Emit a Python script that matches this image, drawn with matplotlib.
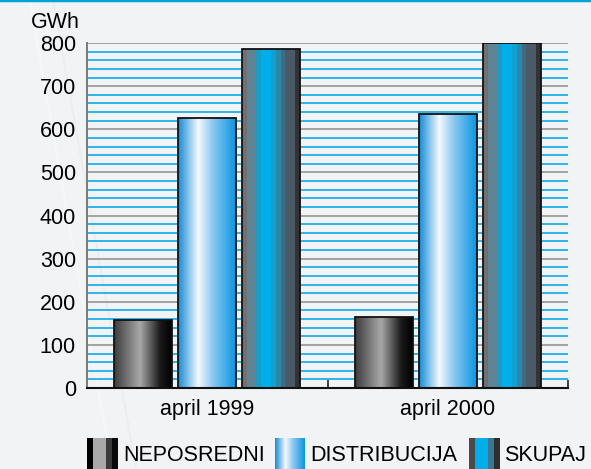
import numpy as np
import matplotlib
matplotlib.use("Agg")
import matplotlib.pyplot as plt
from matplotlib.colors import LinearSegmentedColormap, ListedColormap
from matplotlib.lines import Line2D

plt.rcParams["font.family"] = ["Liberation Sans", "DejaVu Sans"]
plt.rcParams["font.size"] = 15.5

# Podaci (GWh)
MJESECI      = ["april 1999", "april 2000"]
NEPOSREDNI   = [158, 165]
DISTRIBUCIJA = [627, 635]
SKUPAJ       = [785, 800]
SERIJE       = ["NEPOSREDNI", "DISTRIBUCIJA", "SKUPAJ"]

POZADINA = "#f2f3f5"

# Horizontalni prelivi za stupce
cmap_nep = LinearSegmentedColormap.from_list(
    "nep", [(0.0, "#3c3c3c"), (0.45, "#a8a8a8"), (0.8, "#1a1a1a"), (1.0, "#000000")])
cmap_dis = LinearSegmentedColormap.from_list(
    "dis", [(0.0, "#148ad6"), (0.35, "#f4f9fe"), (0.6, "#8cc8f0"), (1.0, "#0a96e2")])
cmap_sku = ListedColormap(["#707073", "#5f8496", "#5f8496", "#1a9cc6", "#00aeea",
                           "#00aeea", "#12a0d0", "#2c88aa", "#3b6e84", "#4a5a66",
                           "#4a5a66", "#333336"])
MAPE = [cmap_nep, cmap_dis, cmap_sku]

# Mape za oznake legende
leg_nep = ListedColormap(["#000000", "#a9a9a9", "#a9a9a9", "#3a3a3a", "#0a0a0a"])
leg_dis = cmap_dis
leg_sku = ListedColormap(["#4a4a4c", "#00aeea", "#00aeea", "#3b7890", "#2e2e30"])
LEG_MAPE = [leg_nep, leg_dis, leg_sku]

fig = plt.figure(figsize=(5.91, 4.69), dpi=100, facecolor=POZADINA)
ax = fig.add_axes([0.1472, 0.1727, 0.9611 - 0.1472, 0.9083 - 0.1727])
ax.set_facecolor("none")

# blagi dijagonalni odsjaji u pozadini
for x0, x1, c in [(0.05, 0.19, "#fbfbfc"), (0.09, 0.23, "#e9eaed")]:
    fig.add_artist(Line2D([x0, x1], [1.0, 0.0], transform=fig.transFigure,
                          color=c, lw=1.5, alpha=0.6, zorder=0))

# gornja cijan linija
fig.add_artist(Line2D([0, 1], [0.999, 0.999], transform=fig.transFigure,
                      color="#00a3d4", lw=2.5))

centri = np.array([0.5, 1.5])
sirina = 0.241
razmak = 0.266

for i, (vrijednosti, cmap) in enumerate(zip([NEPOSREDNI, DISTRIBUCIJA, SKUPAJ], MAPE)):
    x = centri + (i - 1) * razmak
    stupci = ax.bar(x, vrijednosti, width=sirina, facecolor="none",
                    edgecolor="#111111", linewidth=1.3, zorder=4)
    grad = np.linspace(0, 1, 256).reshape(1, -1)
    for s in stupci:
        x0, y0 = s.get_x(), s.get_y()
        img = ax.imshow(grad, cmap=cmap, aspect="auto", zorder=3,
                        extent=[x0, x0 + s.get_width(), y0, y0 + s.get_height()],
                        interpolation="bilinear" if cmap is not cmap_sku else "nearest")
        img.set_clip_path(s)

ax.set_xlim(0, 2)
ax.set_ylim(0, 800)

# mreza: sive linije na 100, plave na 20
ax.set_yticks(np.arange(0, 801, 100))
ax.set_yticks(np.arange(20, 800, 20), minor=True)
ax.yaxis.grid(True, which="major", color="#a2a2a2", lw=1.4, zorder=1)
ax.yaxis.grid(True, which="minor", color="#1cb0ea", lw=1.3, zorder=1)
ax.tick_params(axis="y", which="both", length=0, pad=8)

ax.set_xticks(centri)
ax.set_xticklabels(MJESECI)
ax.set_xticks([1, 2], minor=True)
ax.tick_params(axis="x", which="major", length=0, pad=8)
ax.tick_params(axis="x", which="minor", direction="in", length=6, width=1.2,
               color="#222222")

for side in ["top", "right"]:
    ax.spines[side].set_visible(False)
ax.spines["left"].set_color("#7a7a7a")
ax.spines["left"].set_linewidth(1.4)
ax.spines["bottom"].set_color("#111111")
ax.spines["bottom"].set_linewidth(1.5)
ax.spines["left"].set_zorder(5)
ax.spines["bottom"].set_zorder(5)

fig.text(80 / 591, 1 - 28 / 469, "GWh", ha="right", va="baseline")

# legenda
oznake_x = [(87, 118), (275, 305), (469, 499)]
grad = np.linspace(0, 1, 256).reshape(1, -1)
for (lx0, lx1), cmap, naziv in zip(oznake_x, LEG_MAPE, SERIJE):
    lax = fig.add_axes([lx0 / 591, 0, (lx1 - lx0) / 591, (469 - 438) / 469])
    lax.imshow(grad, cmap=cmap, aspect="auto",
               interpolation="nearest" if cmap is not leg_dis else "bilinear")
    lax.set_axis_off()
    fig.text((lx1 + 5) / 591, 1 - 455 / 469, naziv, ha="left", va="center")

fig.savefig("out.png", dpi=100, facecolor=POZADINA)
